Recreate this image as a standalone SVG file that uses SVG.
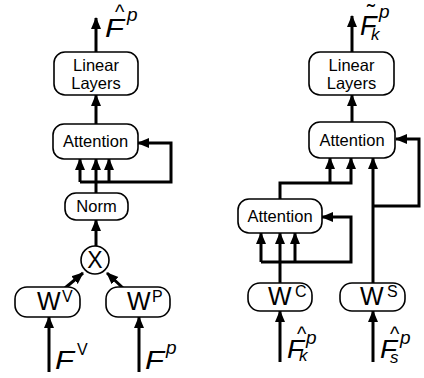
<svg xmlns="http://www.w3.org/2000/svg" width="424" height="378" viewBox="0 0 424 378">
<defs>
<marker id="ah" markerUnits="userSpaceOnUse" markerWidth="12" markerHeight="12" viewBox="0 0 12 12" refX="11" refY="6" orient="auto">
<path d="M0,1 L12,6 L0,11 Z" fill="#000"/>
</marker>
<style>
.box{fill:#fff;stroke:#000;stroke-width:1.6}
.t{font-family:"Liberation Sans",Arial,sans-serif;font-size:16.5px;fill:#000;text-anchor:middle}
.w{font-family:"Liberation Sans",Arial,sans-serif;font-size:25px;fill:#000}
.ws{font-family:"Liberation Sans",Arial,sans-serif;font-size:16px;fill:#000}
.f{font-family:"Liberation Sans",Arial,sans-serif;font-style:italic;font-size:25px;fill:#000}
.fs{font-family:"Liberation Sans",Arial,sans-serif;font-style:italic;font-size:19px;fill:#000}
.fu{font-family:"Liberation Sans",Arial,sans-serif;font-size:20px;fill:#000}
.a{fill:none;stroke:#000;stroke-width:3;marker-end:url(#ah)}
</style>
</defs>
<g id="connectors">
<path class="a" d="M96,52 V18"/>
<path class="a" d="M96,124 V95"/>
<path class="a" d="M96,193 V159"/>
<path class="a" d="M80,182 V159"/>
<path class="a" d="M109,182 V159"/>
<path class="a" d="M80,182 H171 V143 H138"/>
<path class="a" d="M96,246 V220"/>
<path class="a" d="M65,288 L83,273"/>
<path class="a" d="M123,288 L107,273"/>
<path class="a" d="M49,372 V317"/>
<path class="a" d="M139,372 V317"/>
<path class="a" d="M352,52 V16"/>
<path class="a" d="M352,122 V95"/>
<path class="a" d="M280,199 V183 H351 V158"/>
<path class="a" d="M330,183 V158"/>
<path class="a" d="M373,283 V158"/>
<path class="a" d="M373,206 H419 V139 H396"/>
<path class="a" d="M280,283 V233"/>
<path class="a" d="M261,262 V233"/>
<path class="a" d="M295,262 V233"/>
<path class="a" d="M261,262 H351 V217 H322"/>
<path class="a" d="M280,362 V311"/>
<path class="a" d="M373,362 V311"/>
</g>
<g id="linear-left">
<rect class="box" x="54" y="52" width="84" height="43" rx="11"/>
<text class="t" x="96" y="71">Linear</text>
<text class="t" x="96" y="89">Layers</text>
</g>
<g id="attention-left">
<rect class="box" x="53" y="124" width="85" height="35" rx="11"/>
<text class="t" x="95.5" y="147">Attention</text>
</g>
<g id="norm">
<rect class="box" x="65" y="193" width="63" height="27" rx="11"/>
<text class="t" x="96.5" y="212">Norm</text>
</g>
<g id="multiply">
<circle class="box" cx="95" cy="260" r="14"/>
<text x="95" y="268" style="font-family:'Liberation Sans',Arial,sans-serif;font-size:23px;text-anchor:middle">X</text>
</g>
<g id="wv">
<rect class="box" x="15" y="287" width="65" height="30" rx="12"/>
<text class="w" x="37" y="310">W</text><text class="ws" x="62" y="302">V</text>
</g>
<g id="wp">
<rect class="box" x="106" y="287" width="64" height="30" rx="12"/>
<text class="w" x="127" y="310">W</text><text class="ws" x="152" y="302">P</text>
</g>
<g id="label-fhat-p">
<text class="f" x="105" y="37" textLength="19" lengthAdjust="spacingAndGlyphs">F</text>
<text class="fu" x="115" y="19">^</text>
<text class="fs" x="127" y="21">p</text>
</g>
<g id="label-fv">
<text class="f" x="55" y="369" textLength="19" lengthAdjust="spacingAndGlyphs">F</text>
<text class="ws" x="77" y="355">V</text>
</g>
<g id="label-fp">
<text class="f" x="145" y="369" textLength="19" lengthAdjust="spacingAndGlyphs">F</text>
<text class="fs" x="166" y="354">p</text>
</g>
<g id="linear-right">
<rect class="box" x="309" y="52" width="85" height="43" rx="11"/>
<text class="t" x="351.5" y="71">Linear</text>
<text class="t" x="351.5" y="89">Layers</text>
</g>
<g id="attention-right-top">
<rect class="box" x="309" y="122" width="86" height="36" rx="11"/>
<text class="t" x="352" y="146">Attention</text>
</g>
<g id="attention-right-low">
<rect class="box" x="238" y="199" width="84" height="34" rx="11"/>
<text class="t" x="280" y="222">Attention</text>
</g>
<g id="wc">
<rect class="box" x="248" y="283" width="64" height="28" rx="12"/>
<text class="w" x="268" y="305">W</text><text class="ws" x="295" y="297">C</text>
</g>
<g id="ws">
<rect class="box" x="340" y="283" width="65" height="28" rx="12"/>
<text class="w" x="360" y="305">W</text><text class="ws" x="387" y="297">S</text>
</g>
<g id="label-ftilde-kp">
<text class="f" x="360" y="35" style="font-size:27px">F</text>
<text class="fu" x="367" y="21" style="font-size:24px">˜</text>
<text class="fs" x="379" y="18">p</text>
<text class="fs" x="371" y="40" style="font-size:17px">k</text>
</g>
<g id="label-fhat-kp">
<text class="f" x="287" y="358" textLength="17" lengthAdjust="spacingAndGlyphs">F</text>
<text class="fu" x="297" y="341">^</text>
<text class="fs" x="306" y="344">p</text>
<text class="fs" x="299" y="361" style="font-size:17px">k</text>
</g>
<g id="label-fhat-sp">
<text class="f" x="380" y="358" textLength="17" lengthAdjust="spacingAndGlyphs">F</text>
<text class="fu" x="390" y="341">^</text>
<text class="fs" x="400" y="344">p</text>
<text class="fs" x="390" y="363" style="font-size:17px">s</text>
</g>
</svg>
